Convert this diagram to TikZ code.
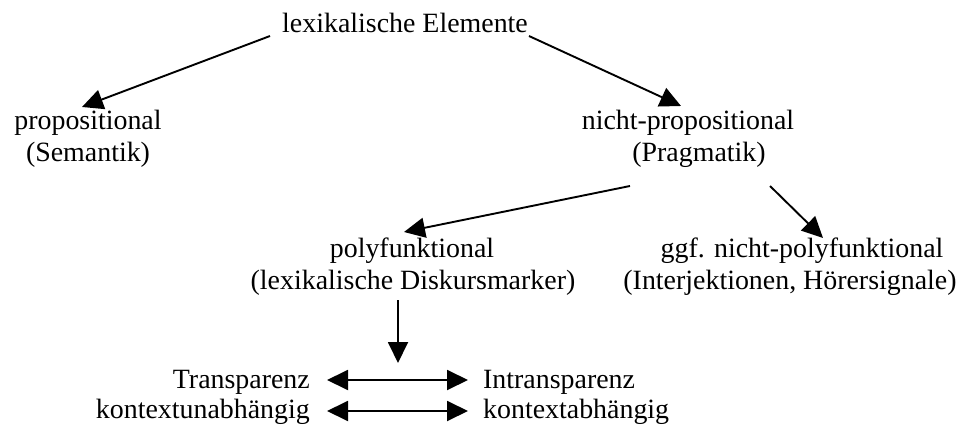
\documentclass[tikz,border=0pt]{standalone}
\usepackage{fontspec}
\setmainfont{Liberation Serif}
\usetikzlibrary{arrows.meta}
\begin{document}
\begin{tikzpicture}[x=1pt,y=-1pt,
  lbl/.style={inner sep=0pt,anchor=base,font=\fontsize{27.9}{32}\selectfont},
  lblr/.style={lbl,anchor=base east},
  lbll/.style={lbl,anchor=base west},
  head/.tip={Triangle[length=21pt,width=20pt]},
  arr/.style={line width=1.9pt,-head},
  darr/.style={line width=1.9pt,head-head}]
\useasboundingbox (0,0) rectangle (973,427);
% top level
\node[lbl] (lex) at (405,33) {lexikalische Elemente};
% second level
\node[lbl] (prop) at (88,130) {propositional};
\node[lbl] (sem) at (88,162) {(Semantik)};
\node[lbl] (nprop) at (688,130) {nicht-propositional};
\node[lbl] (prag) at (699,162) {(Pragmatik)};
% third level
\node[lbl] (poly) at (412,258) {polyfunktional};
\node[lbl] (ldm) at (413,290) {(lexikalische Diskursmarker)};
\node[lbl] (ggf) at (802,258) {ggf. nicht-polyfunktional};
\node[lbl] (ihs) at (790,290) {(Interjektionen, Hörersignale)};
% opposing pairs
\node[lblr] (tr) at (310,388) {Transparenz};
\node[lblr] (ku) at (310,418) {kontextunabhängig};
\node[lbll] (intr) at (483,388) {Intransparenz};
\node[lbll] (ka) at (483,418) {kontextabhängig};
% connectors
\draw[arr] ([shift={(-12,3)}]lex.base west) -- ([shift={(-6,-23)}]prop.base);
\draw[arr] ([shift={(1,3)}]lex.base east) -- ([shift={(-7,-24)}]nprop.base);
\draw[arr] ([shift={(-69,24)}]prag.base) -- ([shift={(-8,-26)}]poly.base);
\draw[arr] ([shift={(71,24)}]prag.base) -- ([shift={(21,-20)}]ggf.base);
\draw[arr] ([shift={(-15,10)}]ldm.base) -- ([shift={(-15,73)}]ldm.base);
\draw[darr] ([shift={(17,-8)}]tr.base east) -- ([shift={(-15,-8)}]intr.base west);
\draw[darr] ([shift={(17,-7)}]ku.base east) -- ([shift={(-15,-7)}]ka.base west);
\end{tikzpicture}
\end{document}
